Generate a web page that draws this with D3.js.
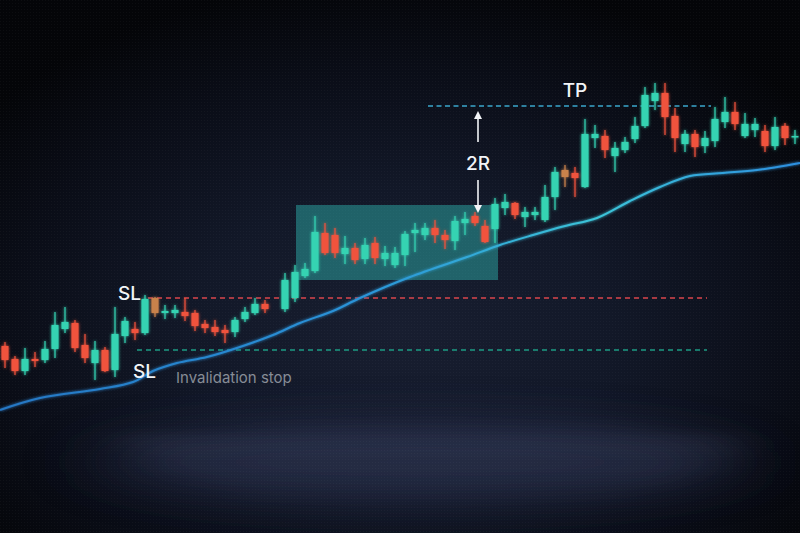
<!DOCTYPE html>
<html><head><meta charset="utf-8">
<script src="https://cdn.jsdelivr.net/npm/d3@7"></script>
<style>html,body{margin:0;padding:0;background:#07090f;}svg{display:block;}</style>
</head><body>
<svg id="chart" width="800" height="533"></svg>
<script>
// ---- data (prices) ----
const sessions = [0,1,2,3,4,5,6,7,8,9,10,11,12,13,14,15,16,17,18,19,20,21,22,23,24,25,26,
  28,29,30,31,32,33,34,35,36,37,38,39,40,41,42,43,44,45,46,47,48,49,50,51,52,53,54,55,56,57,58,59,60,61,62,63,64,65,66,67,68,69,70,71,72,73,74,75,76,77,78,79];
const opens  = [52,45.5,39.5,45.5,45,50.5,60.5,63.5,52.5,43.5,50,40,57,60.5,58.5,76,68.5,68.5,69,68.5,63,61.5,60,59,65.5,68.5,73,
  70.5,76,87,89.5,108.5,107.5,98,101,95.5,103.5,95.5,92.5,97.5,108.5,107.5,111,107.5,104.5,113.5,117,112,110.5,121,123.5,116.5,117.5,115,126.5,140,138.5,131.5,156,157,147,150,155.5,162,174.5,178.5,167,153,158,152,154.5,164,169,157,160,159.5,152,162,156.5];
const highs  = [54,47,51,49,54.5,69,71.5,65,58,54.5,51.5,71.5,66.5,64,77.5,76.5,72.5,72.5,76,70,65,65,62.5,66.5,71.5,76,75,
  88.5,92.5,93.5,117,113.5,111,107,103.5,106,106.5,102,101.5,109.5,113.5,113.5,115,110,117,119,119,115,126,128,124,121.5,121.5,132.5,141.5,142.5,141.5,165.5,162.5,160,154,156.5,166.5,181.5,183.5,183.5,171,160,160,159.5,171.5,176.5,174,168.5,166,162.5,166.5,163.5,160];
const lows   = [41,37.5,37.5,41.5,43.5,46,58.5,49,43.5,35,39,36.5,53.5,55,57.5,66.5,65.5,66,64.5,59.5,58.5,57,53.5,56.5,64,67.5,68.5,
  69,74,86,88.5,97.5,96,93,93,93,93,92,91,92,99,105,103.5,100.5,100,107.5,112,103.5,103.5,117.5,115.5,111.5,115,114,120,131.5,126.5,131,151,146,139,148.5,153.5,161,170,157.5,149,149,146.5,148.5,151.5,161,160,156,156.5,149,150,152.5,153];
const closes = [45,39.5,45.5,44.5,50.5,62.5,64,51,46,50,39.5,58,64.5,58.5,75.5,68.5,69.5,70,67,62,61,59,58.5,65,69,73,70.5,
  85,89,90.5,109,98.5,98.5,101,95,102.5,96,98.5,98.5,108,110,111,107.5,105,114.5,115.5,113.5,104,123,124,117.5,119,119,126.5,139,136.5,136,158,158,150,151,154,162,177.5,178.5,166.5,156,158,151.5,156,165.5,169,163,163,163,152,161.5,156,157];
const mutedSessions = [15, 56];           // candles drawn in a muted amber tone

// moving average (session, price)
const maSessions = [-0.5,3.5,9.5,12.8,14.8,17.2,20.2,23.5,26.8,29.5,32.8,35.5,40.5,46.2,49.5,52.8,56,59.2,62.5,65.5,68.5,71.8,75.2,79.5];
const maValues   = [20,26,30.5,34,39.5,43.5,46.5,51.5,57.5,63.5,69.5,76,86.5,96.5,102.5,107.5,112,116,124.5,131.5,137,138.5,140,143.5];

// levels
const slEntryLevel = 76, slInvalidLevel = 50, tpLevel = 172;
const rangeBox = {t0: 29.1, t1: 49.3, low: 85, high: 122.5};

// ---- drawing ----
const W = 800, H = 533;
const svg = d3.select("#chart");
const x = d3.scaleLinear().domain([0, 79]).range([5, 795]);
const y = d3.scaleLinear().domain([0, 200]).range([450, 50]);

const defs = svg.append("defs");
const bg = defs.append("radialGradient").attr("id","bg").attr("cx","50%").attr("cy","62%").attr("r","66%");
bg.append("stop").attr("offset","0%").attr("stop-color","#181e30");
bg.append("stop").attr("offset","40%").attr("stop-color","#121828");
bg.append("stop").attr("offset","75%").attr("stop-color","#0a0d17");
bg.append("stop").attr("offset","100%").attr("stop-color","#040508");
const blur = defs.append("filter").attr("id","blur").attr("x","-30%").attr("y","-300%").attr("width","160%").attr("height","700%");
blur.append("feGaussianBlur").attr("stdDeviation","22 6");
const blur2 = defs.append("filter").attr("id","blur2").attr("x","-50%").attr("y","-100%").attr("width","200%").attr("height","300%");
blur2.append("feGaussianBlur").attr("stdDeviation","40 20");
const glow = defs.append("filter").attr("id","glow").attr("x","-50%").attr("y","-50%").attr("width","200%").attr("height","200%");
glow.append("feGaussianBlur").attr("in","SourceGraphic").attr("stdDeviation","1.6").attr("result","b");
const gm = glow.append("feMerge"); gm.append("feMergeNode").attr("in","b"); gm.append("feMergeNode").attr("in","SourceGraphic");
const pat = defs.append("pattern").attr("id","dots").attr("width",3).attr("height",3).attr("patternUnits","userSpaceOnUse");
pat.append("rect").attr("width",1).attr("height",1).attr("fill","#ffffff").attr("opacity",0.03);
const maGrad = defs.append("linearGradient").attr("id","maGrad").attr("x1","0%").attr("x2","100%").attr("y1","0%").attr("y2","0%");
maGrad.append("stop").attr("offset","0%").attr("stop-color","#2577c4");
maGrad.append("stop").attr("offset","45%").attr("stop-color","#2a93d8");
maGrad.append("stop").attr("offset","75%").attr("stop-color","#3cc4d8");
maGrad.append("stop").attr("offset","100%").attr("stop-color","#2c8ee0");

svg.append("rect").attr("width",W).attr("height",H).attr("fill","url(#bg)");
// soft lower glow + horizontal streaks (reflection)
svg.append("ellipse").attr("cx",420).attr("cy",462).attr("rx",320).attr("ry",42)
  .attr("fill","#2a3150").attr("opacity",0.55).attr("filter","url(#blur2)");
const streaks = svg.append("g").attr("filter","url(#blur)");
[[120,436,620,7,0.10],[140,449,600,6,0.12],[160,463,560,7,0.08],[200,477,480,6,0.06],[260,425,380,5,0.05],[230,492,400,5,0.04]].forEach(s=>{
  streaks.append("rect").attr("x",s[0]).attr("y",s[1]).attr("width",s[2]).attr("height",s[3]).attr("fill","#9aa6d8").attr("opacity",s[4]);
});
svg.append("rect").attr("width",W).attr("height",H).attr("fill","url(#dots)");

// range box
svg.append("rect")
  .attr("x", x(rangeBox.t0)).attr("y", y(rangeBox.high))
  .attr("width", x(rangeBox.t1) - x(rangeBox.t0)).attr("height", y(rangeBox.low) - y(rangeBox.high))
  .attr("fill","#2fb4b0").attr("opacity",0.47);

// level lines
svg.append("line").attr("x1",x(13.2)).attr("x2",x(70.2)).attr("y1",y(slInvalidLevel)).attr("y2",y(slInvalidLevel))
  .attr("stroke","#1c9c84").attr("stroke-width",1.4).attr("stroke-dasharray","5 4");
svg.append("line").attr("x1",x(14.3)).attr("x2",x(70.2)).attr("y1",y(slEntryLevel)).attr("y2",y(slEntryLevel))
  .attr("stroke","#d9464c").attr("stroke-width",1.4).attr("stroke-dasharray","5 4");
svg.append("line").attr("x1",x(42.3)).attr("x2",x(70.6)).attr("y1",y(tpLevel)).attr("y2",y(tpLevel))
  .attr("stroke","#3aa6cc").attr("stroke-width",1.5).attr("stroke-dasharray","5 3.5");

// moving average
const maData = maSessions.map((t,i)=>[t, maValues[i]]);
svg.append("path").datum(maData)
  .attr("d", d3.line().x(d=>x(d[0])).y(d=>y(d[1])).curve(d3.curveCatmullRom.alpha(0.5)))
  .attr("fill","none").attr("stroke","url(#maGrad)").attr("stroke-width",2).attr("filter","url(#glow)");

// candles
const candles = sessions.map((t,i)=>({t, o:opens[i], h:highs[i], l:lows[i], c:closes[i]}));
const up = "#35d3b2", down = "#f0533c", muted = "#c9824c";
const colorOf = d => mutedSessions.includes(d.t) ? muted : (d.c >= d.o ? up : down);
const cg = svg.append("g").attr("filter","url(#glow)");
const cs = cg.selectAll("g.c").data(candles).join("g").attr("class","c");
cs.append("line").attr("x1",d=>x(d.t)).attr("x2",d=>x(d.t)).attr("y1",d=>y(d.h)).attr("y2",d=>y(d.l))
  .attr("stroke",colorOf).attr("stroke-width",1.2);
cs.append("rect").attr("x",d=>x(d.t)-3.5).attr("width",7)
  .attr("y",d=>y(Math.max(d.o,d.c)))
  .attr("height",d=>Math.max(1.5, Math.abs(y(d.o)-y(d.c))))
  .attr("fill",colorOf);

// 2R arrows
const arrowT = 47.3;
const ag = svg.append("g").attr("stroke","#f2f4f7").attr("fill","#f2f4f7");
ag.append("line").attr("x1",x(arrowT)).attr("x2",x(arrowT)).attr("y1",y(154)).attr("y2",y(167)).attr("stroke-width",1.6);
ag.append("path").attr("d",`M${x(arrowT)},${y(169.5)} l-4,8 l8,0 z`).attr("stroke","none");
ag.append("line").attr("x1",x(arrowT)).attr("x2",x(arrowT)).attr("y1",y(135)).attr("y2",y(122)).attr("stroke-width",1.6);
ag.append("path").attr("d",`M${x(arrowT)},${y(118.5)} l-4,-8 l8,0 z`).attr("stroke","none");

// labels
const font = "Inter, 'Open Sans', sans-serif";
svg.append("text").attr("x",x(arrowT)).attr("y",y(143.5)).attr("dy","0.35em").attr("text-anchor","middle")
  .attr("font-family",font).attr("font-size",19).attr("font-weight",500).attr("fill","#f2f4f7").text("2R");
svg.append("text").attr("x",x(57)).attr("y",y(tpLevel)-9).attr("text-anchor","middle")
  .attr("font-family",font).attr("font-size",19).attr("font-weight",500).attr("fill","#f2f4f7").text("TP");
svg.append("text").attr("x",x(11.3)).attr("y",y(slEntryLevel)+2).attr("text-anchor","start")
  .attr("font-family",font).attr("font-size",19).attr("font-weight",500).attr("fill","#f2f4f7").text("SL");
svg.append("text").attr("x",x(12.8)).attr("y",y(slInvalidLevel)+28).attr("text-anchor","start")
  .attr("font-family",font).attr("font-size",19).attr("font-weight",500).attr("fill","#f2f4f7").text("SL");
svg.append("text").attr("x",x(17.1)).attr("y",y(slInvalidLevel)+33).attr("text-anchor","start")
  .attr("font-family",font).attr("font-size",15).attr("fill","#868c96").text("Invalidation stop");
</script>
</body></html>
